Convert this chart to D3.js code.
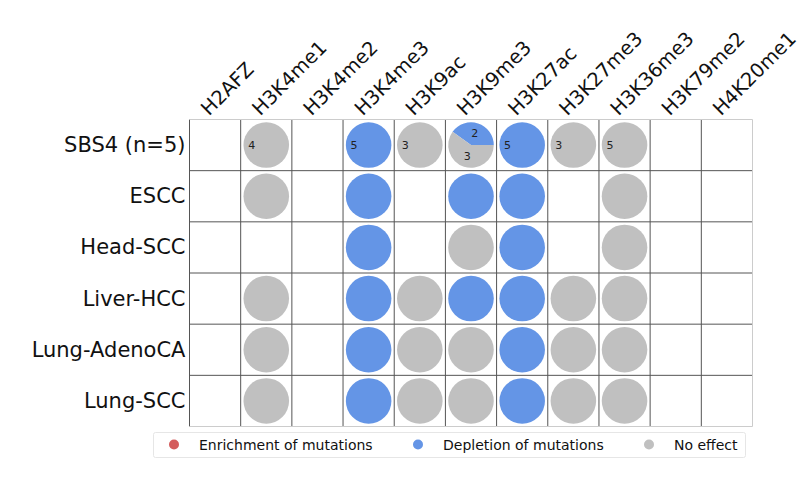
<!DOCTYPE html>
<html>
<head>
<meta charset="utf-8">
<script src="https://cdn.jsdelivr.net/npm/d3@7"></script>
<style>
  body { margin: 0; background: #fff; }
  text { font-family: "DejaVu Sans", sans-serif; }
</style>
</head>
<body>
<div id="chart"></div>
<script>
// Chart size
var width = 800;
var height = 488;

// Histone marks (columns) and cancer types (rows)
var marks = ["H2AFZ", "H3K4me1", "H3K4me2", "H3K4me3", "H3K9ac", "H3K9me3",
  "H3K27ac", "H3K27me3", "H3K36me3", "H3K79me2", "H4K20me1"];
var cancers = ["SBS4 (n=5)", "ESCC", "Head-SCC", "Liver-HCC", "Lung-AdenoCA", "Lung-SCC"];

// Cell values: [row, column, enriched, depleted, no effect, show counts]
var cells = [
  [0, 1, 0, 0, 4, true], [0, 3, 0, 5, 0, true], [0, 4, 0, 0, 3, true],
  [0, 5, 0, 2, 3, true], [0, 6, 0, 5, 0, true], [0, 7, 0, 0, 3, true],
  [0, 8, 0, 0, 5, true],
  [1, 1, 0, 0, 1, false], [1, 3, 0, 1, 0, false], [1, 5, 0, 1, 0, false],
  [1, 6, 0, 1, 0, false], [1, 8, 0, 0, 1, false],
  [2, 3, 0, 1, 0, false], [2, 5, 0, 0, 1, false], [2, 6, 0, 1, 0, false],
  [2, 8, 0, 0, 1, false],
  [3, 1, 0, 0, 1, false], [3, 3, 0, 1, 0, false], [3, 4, 0, 0, 1, false],
  [3, 5, 0, 1, 0, false], [3, 6, 0, 1, 0, false], [3, 7, 0, 0, 1, false],
  [3, 8, 0, 0, 1, false],
  [4, 1, 0, 0, 1, false], [4, 3, 0, 1, 0, false], [4, 4, 0, 0, 1, false],
  [4, 5, 0, 0, 1, false], [4, 6, 0, 1, 0, false], [4, 7, 0, 0, 1, false],
  [4, 8, 0, 0, 1, false],
  [5, 1, 0, 0, 1, false], [5, 3, 0, 1, 0, false], [5, 4, 0, 0, 1, false],
  [5, 5, 0, 0, 1, false], [5, 6, 0, 1, 0, false], [5, 7, 0, 0, 1, false],
  [5, 8, 0, 0, 1, false]
];

// Legend entries
var legendLabels = ["Enrichment of mutations", "Depletion of mutations", "No effect"];
var colors = ["#d45d5d", "#6495e6", "#c0c0c0"];

var grid = { left: 189.5, right: 752.5, top: 119.5, bottom: 426.5 };

var svg = d3.select("#chart").append("svg")
    .attr("width", width)
    .attr("height", height);

var x = d3.scaleBand().domain(d3.range(marks.length)).range([grid.left, grid.right]);
var y = d3.scaleBand().domain(d3.range(cancers.length)).range([grid.top, grid.bottom]);
var radius = x.bandwidth() * 0.445;

// Grid lines: inner ones dark, outer frame light
var g = svg.append("g");
d3.range(1, cancers.length).forEach(function(i) {
  g.append("line").attr("x1", grid.left).attr("x2", grid.right)
    .attr("y1", y(i)).attr("y2", y(i)).attr("stroke", "#555");
});
d3.range(0, marks.length).forEach(function(j) {
  g.append("line").attr("x1", x(j)).attr("x2", x(j))
    .attr("y1", grid.top).attr("y2", grid.bottom).attr("stroke", "#555");
});
g.append("path")
    .attr("d", "M" + grid.left + "," + grid.top + "H" + grid.right + "V" + grid.bottom + "H" + grid.left)
    .attr("fill", "none").attr("stroke", "#ccc");

// Pies
var pie = d3.pie().sort(null).value(function(d) { return d.v; })
    .startAngle(Math.PI / 2).endAngle(Math.PI / 2 - 2 * Math.PI);
var arc = d3.arc().innerRadius(0).outerRadius(radius);

cells.forEach(function(c) {
  var cx = x(c[1]) + x.bandwidth() / 2;
  var cy = y(c[0]) + y.bandwidth() / 2;
  var parts = [{ v: c[2], k: 0 }, { v: c[3], k: 1 }, { v: c[4], k: 2 }].filter(function(p) { return p.v > 0; });
  var cg = svg.append("g").attr("transform", "translate(" + cx + "," + cy + ")");
  var slices = pie(parts);
  slices.forEach(function(s) {
    if (slices.length === 1) {
      cg.append("circle").attr("r", radius).attr("fill", colors[s.data.k]);
    } else {
      cg.append("path").attr("d", arc(s)).attr("fill", colors[s.data.k]);
    }
  });
  if (c[5]) {
    slices.forEach(function(s) {
      var mid = (s.startAngle + s.endAngle) / 2;
      var dist = slices.length === 1 ? 0.64 * radius : 0.55 * radius;
      cg.append("text")
        .attr("x", dist * Math.sin(mid))
        .attr("y", -dist * Math.cos(mid))
        .attr("text-anchor", "middle")
        .attr("dominant-baseline", "central")
        .attr("font-size", 11)
        .attr("fill", "#222")
        .text(s.data.v);
    });
  }
});

// Row labels
svg.selectAll(".rowlab").data(cancers).enter().append("text")
    .attr("x", grid.left - 4)
    .attr("y", function(d, i) { return y(i) + y.bandwidth() / 2; })
    .attr("text-anchor", "end")
    .attr("dominant-baseline", "central")
    .attr("font-size", 21)
    .attr("fill", "#111")
    .text(function(d) { return d; });

// Column labels, rotated
svg.selectAll(".collab").data(marks).enter().append("text")
    .attr("transform", function(d, i) {
      return "translate(" + (x(i) + x.bandwidth() / 2 - 6) + "," + (grid.top - 3) + ") rotate(-45)";
    })
    .attr("font-size", 19.5)
    .attr("fill", "#111")
    .text(function(d) { return d; });

// Legend
var lg = svg.append("g");
lg.append("rect")
    .attr("x", 153.5).attr("y", 432.5).attr("width", 592).attr("height", 25)
    .attr("rx", 2).attr("fill", "#fff").attr("stroke", "#e6e6e6");
var legendX = [174, 418, 649];
legendLabels.forEach(function(l, i) {
  lg.append("circle").attr("cx", legendX[i]).attr("cy", 444.5).attr("r", 5).attr("fill", colors[i]);
  lg.append("text").attr("x", legendX[i] + 25).attr("y", 444.5)
    .attr("dominant-baseline", "central")
    .attr("font-size", 14).attr("fill", "#111").text(l);
});
</script>
</body>
</html>
